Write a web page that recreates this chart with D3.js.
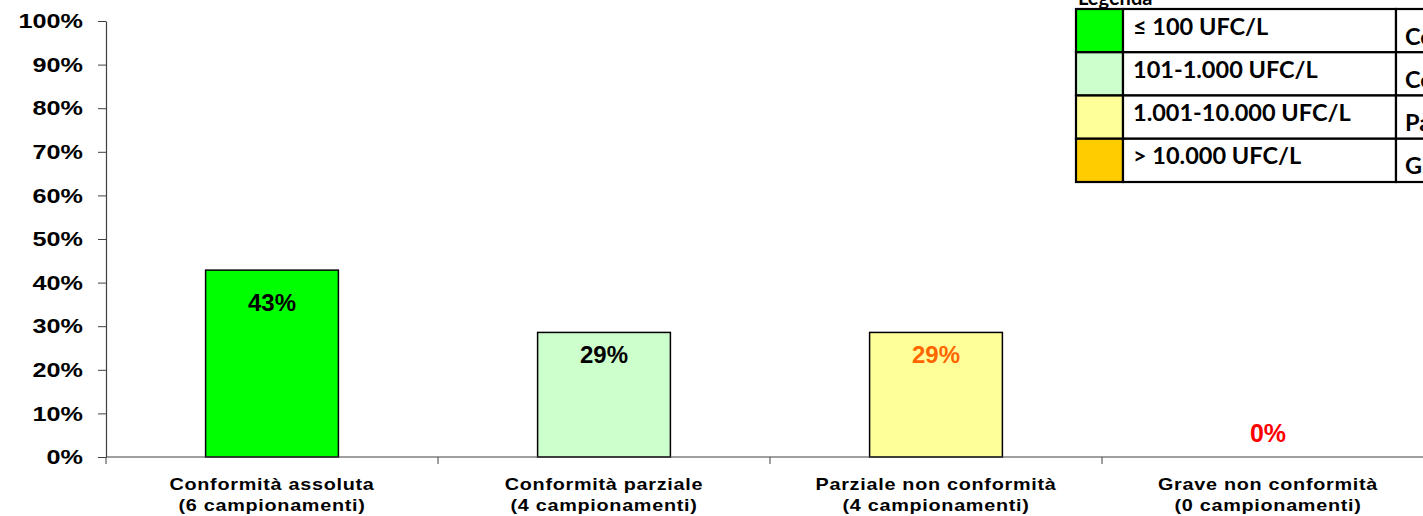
<!DOCTYPE html>
<html><head><meta charset="utf-8">
<script src="https://cdn.jsdelivr.net/npm/d3@7"></script>
<style>
html,body{margin:0;padding:0;background:#fff;overflow:hidden}
svg{display:block}
</style></head>
<body>
<svg id="chart" width="1423" height="516"></svg>
<script>
const categories = [
  ["Conformità assoluta", "(6 campionamenti)"],
  ["Conformità parziale", "(4 campionamenti)"],
  ["Parziale non conformità", "(4 campionamenti)"],
  ["Grave non conformità", "(0 campionamenti)"]
];
const values = [0.4286, 0.2857, 0.2857, 0];
const valueLabels = ["43%", "29%", "29%", "0%"];
const barColors = ["#00FF00", "#CCFFCC", "#FFFF99", "#FFCC00"];
const labelColors = ["#000000", "#000000", "#FF6600", "#FF0000"];
const yTicks = [0, 0.1, 0.2, 0.3, 0.4, 0.5, 0.6, 0.7, 0.8, 0.9, 1.0];
const legendRanges = ["≤ 100 UFC/L", "101-1.000 UFC/L", "1.001-10.000 UFC/L", "> 10.000 UFC/L"];
const legendClasses = ["Conformità assoluta", "Conformità parziale", "Parziale non conformità", "Grave non conformità"];
const legendColors = ["#00FF00", "#CCFFCC", "#FFFF99", "#FFCC00"];

(function(){
const svg = d3.select("#chart");
const pl = 106, pr = 1434, pt = 21, pb = 457;
const SX = 1.2;

const x = d3.scaleBand().domain(d3.range(categories.length)).range([pl, pr]).paddingInner(0).paddingOuter(0);
const y = d3.scaleLinear().domain([0, 1]).range([pb, pt]);
const barW = x.bandwidth() * 0.4;

// bars
svg.append("g").selectAll("rect").data(values).join("rect")
  .attr("x", (d, i) => x(i) + (x.bandwidth() - barW) / 2)
  .attr("y", d => y(d))
  .attr("width", barW)
  .attr("height", d => pb - y(d))
  .attr("fill", (d, i) => barColors[i])
  .attr("stroke", d => d > 0 ? "#000" : "none")
  .attr("stroke-width", 1.5);

// y axis
const yAxis = svg.append("g").attr("transform", `translate(${pl},0)`)
  .call(d3.axisLeft(y).tickValues(yTicks).tickFormat(d3.format(".0%")).tickSize(8).tickSizeOuter(0));
yAxis.select(".domain").attr("stroke", "#404040").attr("stroke-width", 1.2);
yAxis.selectAll(".tick line").attr("stroke", "#404040");
yAxis.selectAll(".tick text")
  .attr("x", -23 / SX)
  .attr("transform", `scale(${SX},1)`)
  .attr("font-family", "Liberation Sans, Arial, sans-serif")
  .attr("font-weight", "bold").attr("font-size", 21).attr("fill", "#000");

// x axis
const xTickPos = d3.range(categories.length + 1).map(i => pl + i * x.bandwidth());
svg.append("line").attr("x1", pl).attr("x2", pr).attr("y1", pb).attr("y2", pb)
  .attr("stroke", "#404040").attr("stroke-width", 1.2);
svg.append("g").selectAll("line").data(xTickPos).join("line")
  .attr("x1", d => d).attr("x2", d => d).attr("y1", pb).attr("y2", pb + 7)
  .attr("stroke", "#404040");

const catG = svg.append("g").selectAll("g").data(categories).join("g")
  .attr("transform", (d, i) => `translate(${x(i) + x.bandwidth() / 2},0) scale(${SX},1)`);
catG.each(function(d) {
  const g = d3.select(this);
  d.forEach((line, j) => {
    g.append("text").attr("x", 0).attr("y", 490 + j * 21)
      .attr("text-anchor", "middle")
      .attr("font-family", "Liberation Sans, Arial, sans-serif")
      .attr("font-weight", "bold").attr("font-size", 16.5)
      .attr("letter-spacing", 0.6)
      .attr("fill", "#000").text(line);
  });
});

// value labels
svg.append("g").selectAll("text").data(values).join("text")
  .attr("x", (d, i) => x(i) + x.bandwidth() / 2)
  .attr("y", d => d > 0 ? y(d) + 10 + 72 * d : y(d) - 15)
  .attr("text-anchor", "middle")
  .attr("font-family", "Liberation Sans, Arial, sans-serif")
  .attr("font-weight", "bold").attr("font-size", d => d > 0 ? 24 : 25)
  .attr("fill", (d, i) => labelColors[i])
  .text((d, i) => valueLabels[i]);

// legend
const lg = svg.append("g");
const lx = 1076, ly = 9, rowH = 43.25, swW = 47, col2 = 1396, lw = 400;
lg.append("text").attr("x", lx + 2).attr("y", 5).attr("font-family", "Lato, Open Sans, sans-serif")
  .attr("font-weight", "bold").attr("font-size", 20).text("Legenda");
legendRanges.forEach((r, i) => {
  const yy = ly + i * rowH;
  lg.append("rect").attr("x", lx).attr("y", yy).attr("width", swW).attr("height", rowH)
    .attr("fill", legendColors[i]).attr("stroke", "#000").attr("stroke-width", 2.2);
  lg.append("rect").attr("x", lx + swW).attr("y", yy).attr("width", col2 - lx - swW).attr("height", rowH)
    .attr("fill", "#fff").attr("stroke", "#000").attr("stroke-width", 2.2);
  lg.append("rect").attr("x", col2).attr("y", yy).attr("width", lw).attr("height", rowH)
    .attr("fill", "#fff").attr("stroke", "#000").attr("stroke-width", 2.2);
  lg.append("text").attr("x", lx + swW + 10).attr("y", yy + 25.5)
    .attr("font-family", "Lato, Open Sans, sans-serif").attr("font-weight", "bold").attr("font-size", 23.5)
    .text(r);
  lg.append("text").attr("x", col2 + 9).attr("y", yy + 35.5)
    .attr("font-family", "Lato, Open Sans, sans-serif").attr("font-weight", "bold").attr("font-size", 23.5)
    .text(legendClasses[i]);
});
})();
</script>
</body></html>
